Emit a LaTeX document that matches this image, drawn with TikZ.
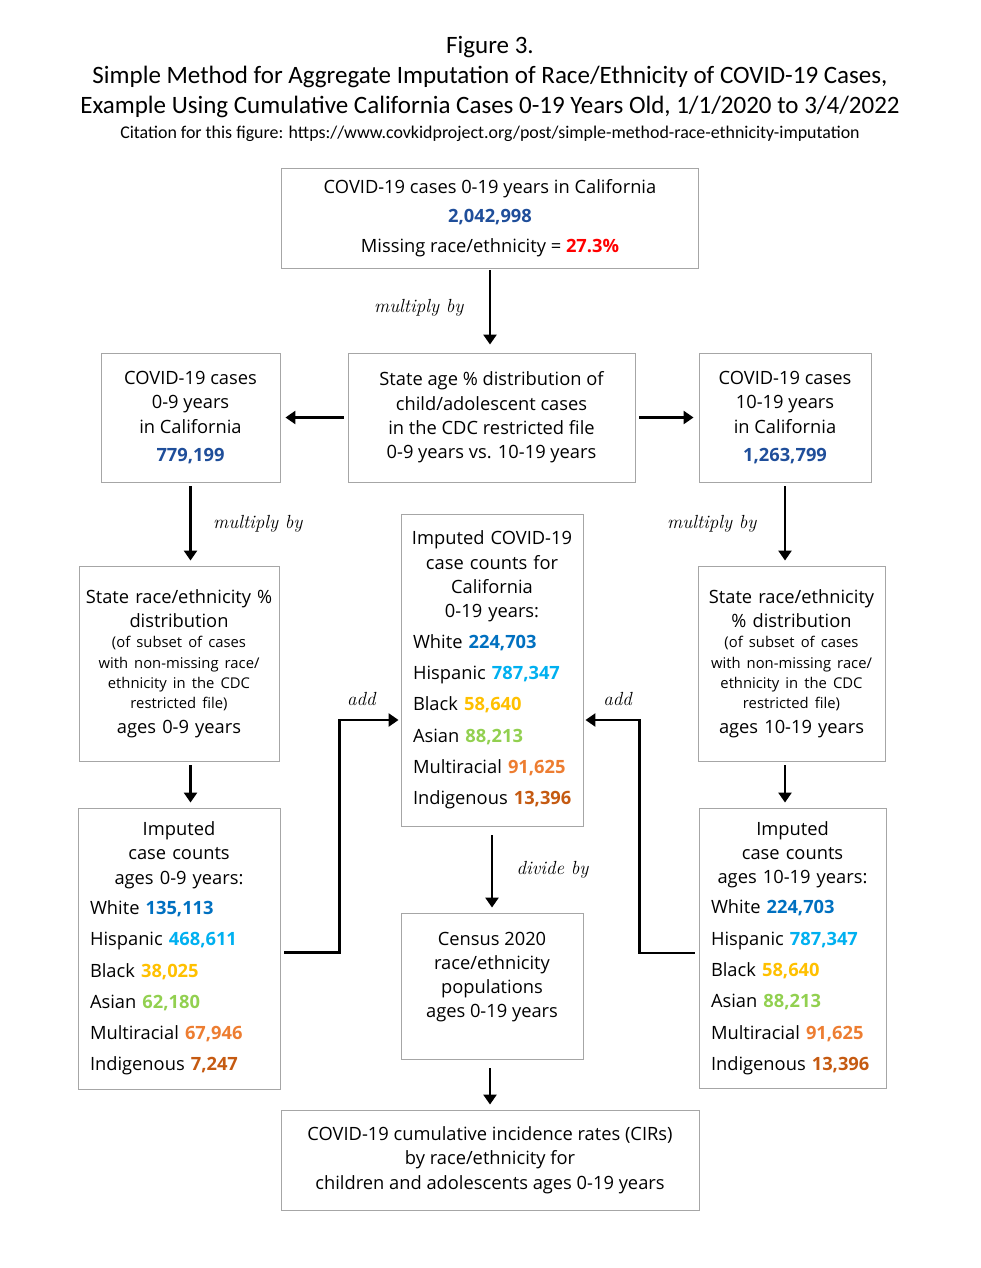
\documentclass[tikz,border=0pt]{standalone}
\usepackage{fontspec}
\setsansfont{Open Sans}
\newfontfamily\titlefont{Carlito}
\usetikzlibrary{arrows.meta, positioning, calc}
\definecolor{numblue}{HTML}{1F4E9A}
\definecolor{cwhite}{HTML}{0070C0}
\definecolor{chisp}{HTML}{00B0F0}
\definecolor{cblack}{HTML}{FFC000}
\definecolor{casian}{HTML}{92D050}
\definecolor{cmulti}{HTML}{ED7D31}
\definecolor{cindig}{HTML}{C55A11}
\definecolor{boxgray}{HTML}{A6A6A6}
\newcommand{\notefont}{\fontsize{14.8}{20.3}\selectfont}
\newcommand{\num}[2]{{\bfseries\color{#1}#2}}

\begin{document}
\begin{tikzpicture}[x=1pt, y=-1pt,
    box/.style={draw=boxgray, line width=0.9pt, align=center, inner sep=0pt,
                font=\sffamily\fontsize{18.3}{24.3}\selectfont},
    listbox/.style={box, align=left, inner xsep=6pt},
    arr/.style={-{Triangle[length=10pt, width=13pt]}, line width=2.6pt,
                shorten >=5pt, shorten <=4pt},
    hand/.style={font=\rmfamily\itshape\fontsize{19}{20}\selectfont},
    heading/.style={font=\titlefont\fontsize{25}{30}\selectfont, align=center}
]
\useasboundingbox (0,0) rectangle (980,1268);

% title
\node[heading] (title) at (490,77) {Figure 3.\\
  Simple Method for Aggregate Imputation of Race/Ethnicity of COVID-19 Cases,\\
  Example Using Cumulative California Cases 0-19 Years Old, 1/1/2020 to 3/4/2022};
\node[heading, font=\titlefont\fontsize{17.9}{20}\selectfont] (cite) at (490,134)
  {Citation for this figure: https://www.covkidproject.org/post/simple-method-race-ethnicity-imputation};

% boxes
\node[box, minimum width=417pt, minimum height=100pt] (total) at (490,218)
  {COVID-19 cases 0-19 years in California\\[5pt]
   \num{numblue}{2,042,998}\\[6pt]
   Missing race/ethnicity = \num{red}{27.3\%}};
\node[box, minimum width=287pt, minimum height=129pt] (agedist) at (491.5,417.5)
  {State age \% distribution of\\ child/adolescent cases\\
   in the CDC restricted file\\ 0-9 years vs. 10-19 years};
\node[box, minimum width=179pt, minimum height=129pt] (cases09) at (190.5,417.5)
  {COVID-19 cases\\ 0-9 years\\ in California\\[4pt] \num{numblue}{779,199}};
\node[box, minimum width=172pt, minimum height=129pt] (cases1019) at (785,417.5)
  {COVID-19 cases\\ 10-19 years\\ in California\\[4pt] \num{numblue}{1,263,799}};

\node[box, text width=200pt, minimum height=195pt] (race09) at (179,663.5)
  {State race/ethnicity \%\\ distribution\par
   {\notefont (of subset of cases\\ with non-missing race/\\ ethnicity in the CDC\\ restricted file)\par}
   ages 0-9 years};
\node[box, text width=187pt, minimum height=195pt] (race1019) at (791.5,663.5)
  {State race/ethnicity\\ \% distribution\par
   {\notefont (of subset of cases\\ with non-missing race/\\ ethnicity in the CDC\\ restricted file)\par}
   ages 10-19 years};

\node[listbox, text width=170pt, minimum height=312pt] (impall) at (492,670)
  {{\centering Imputed COVID-19\\ case counts for\\ California\\ 0-19 years:\\[6pt]\par}
   \leftskip=6pt
   White \num{cwhite}{224,703}\\[7pt]
   Hispanic \num{chisp}{787,347}\\[7pt]
   Black \num{cblack}{58,640}\\[7pt]
   Asian \num{casian}{88,213}\\[7pt]
   Multiracial \num{cmulti}{91,625}\\[7pt]
   Indigenous \num{cindig}{13,396}\par};
\node[listbox, text width=190pt, minimum height=281pt] (imp09) at (179,948.5)
  {{\centering Imputed\\ case counts\\ ages 0-9 years:\\[6pt]\par}
   \leftskip=6pt
   White \num{cwhite}{135,113}\\[7pt]
   Hispanic \num{chisp}{468,611}\\[7pt]
   Black \num{cblack}{38,025}\\[7pt]
   Asian \num{casian}{62,180}\\[7pt]
   Multiracial \num{cmulti}{67,946}\\[7pt]
   Indigenous \num{cindig}{7,247}\par};
\node[listbox, text width=175pt, minimum height=280pt] (imp1019) at (792.5,948)
  {{\centering Imputed\\ case counts\\ ages 10-19 years:\\[6pt]\par}
   \leftskip=6pt
   White \num{cwhite}{224,703}\\[7pt]
   Hispanic \num{chisp}{787,347}\\[7pt]
   Black \num{cblack}{58,640}\\[7pt]
   Asian \num{casian}{88,213}\\[7pt]
   Multiracial \num{cmulti}{91,625}\\[7pt]
   Indigenous \num{cindig}{13,396}\par};

\node[box, minimum width=182pt, minimum height=146pt] (census) at (492,986)
  {Census 2020\\ race/ethnicity\\ populations\\ ages 0-19 years\\[-2pt]};
\node[box, minimum width=418pt, minimum height=100pt] (cir) at (490,1160)
  {COVID-19 cumulative incidence rates (CIRs)\\ by race/ethnicity for\\
   children and adolescents ages 0-19 years};

% connectors
\draw[arr, shorten <=2pt, shorten >=8pt] (total.south) --
  node[hand, left=22pt, yshift=3pt] {multiply by} (total.south |- agedist.north);
\draw[arr] (agedist.west) -- (cases09.east);
\draw[arr] (agedist.east) -- (cases1019.west);
\draw[arr] (cases09.south) --
  node[hand, right=18pt] {multiply by} (cases09.south |- race09.north);
\draw[arr] (cases1019.south) --
  node[hand, left=24pt] {multiply by} (cases1019.south |- race1019.north);
\draw[arr] (race09.south -| cases09.center) -- (imp09.north -| cases09.center);
\draw[arr] (race1019.south -| cases1019.center) -- (imp1019.north -| cases1019.center);
\draw[arr, shorten >=2pt] ([yshift=-4pt]imp09.east) -- ++(59,0)
  |- node[pos=0.5, hand, above right=10pt and 3pt] {add} ([yshift=-50pt]impall.west);
\draw[arr, shorten >=2pt] ([yshift=-5pt]imp1019.west) -- ++(-59,0)
  |- node[pos=0.5, hand, above left=10pt and 3pt] {add} ([yshift=-50pt]impall.east);
\draw[arr, shorten <=9pt] (impall.south) --
  node[hand, right=20pt] {divide by} (impall.south |- census.north);
\draw[arr, shorten <=9pt] (census.south -| cir.center) -- (cir.north);
\end{tikzpicture}
\end{document}
